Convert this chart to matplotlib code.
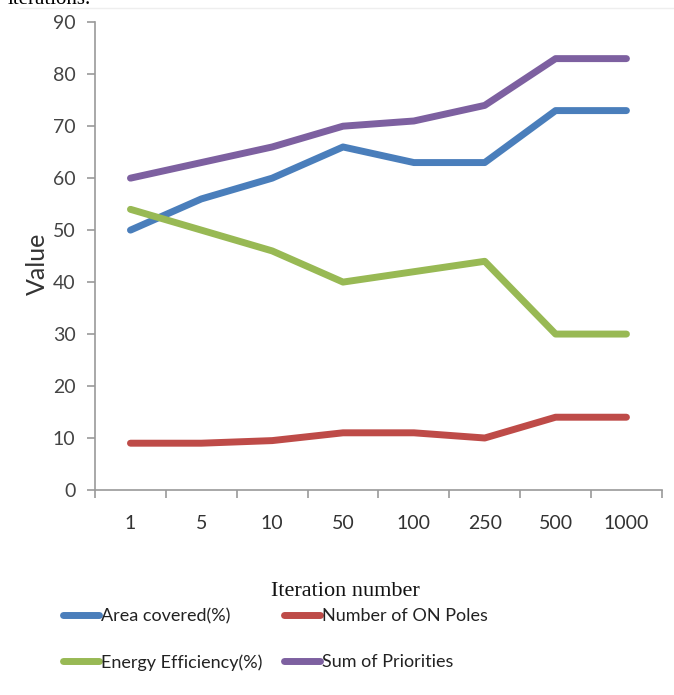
import numpy as np
import matplotlib
matplotlib.use("Agg")
import matplotlib.pyplot as plt
from matplotlib.lines import Line2D

# --------------------------------------------------
# Data
# --------------------------------------------------
iterations = ["1", "5", "10", "50", "100", "250", "500", "1000"]
area_covered = [50, 56, 60, 66, 63, 63, 73, 73]
on_poles = [9, 9, 9.5, 11, 11, 10, 14, 14]
energy_eff = [54, 50, 46, 40, 42, 44, 30, 30]
sum_priorities = [60, 63, 66, 70, 71, 74, 83, 83]

series_names = ["Area covered(%)", "Number of ON Poles",
                "Energy Efficiency(%)", "Sum of Priorities"]
colors = ["#4a7ebb", "#be4b48", "#98b954", "#7d60a0"]

sans = ["Lato", "DejaVu Sans"]

# --------------------------------------------------
# Figure
# --------------------------------------------------
fig = plt.figure(figsize=(6.74, 6.95), dpi=100)
ax = fig.add_axes([0.141, 0.295, 0.841, 0.673])

x = np.arange(len(iterations))
lines = {}
for name, vals, c in zip(series_names,
                         [area_covered, on_poles, energy_eff, sum_priorities],
                         colors):
    ln, = ax.plot(x, vals, color=c, lw=5, solid_capstyle="round",
                  solid_joinstyle="round")
    lines[name] = ln

ax.set_xlim(-0.5, len(iterations) - 0.5)
ax.set_ylim(0, 90)
ax.set_yticks(range(0, 91, 10))
ax.set_xticks(x)
ax.set_xticklabels(iterations)
ax.set_xticks(np.arange(-0.5, len(iterations)), minor=True)
ax.tick_params(axis="x", which="major", length=0, pad=18,
               labelsize=14, labelcolor="#333333")
ax.tick_params(axis="x", which="minor", length=6, color="#9a9a9a", width=1.2)
ax.tick_params(axis="y", length=6, color="#9a9a9a", width=1.2, pad=8,
               labelsize=14, labelcolor="#444444")
for lbl in ax.get_xticklabels() + ax.get_yticklabels():
    lbl.set_family(sans)

for s in ["top", "right"]:
    ax.spines[s].set_visible(False)
for s in ["left", "bottom"]:
    ax.spines[s].set_color("#9a9a9a")
    ax.spines[s].set_linewidth(1.2)

fig.text(0.055, 0.62, "Value", rotation=90, ha="center", va="center",
         fontsize=18, family=sans, color="#333333")
fig.text(0.512, 0.149, "Iteration number", ha="center", va="center",
         fontsize=16, family="Liberation Serif", color="#111111")

# cut-off caption from page above
fig.text(0.012, 1.0, "iterations.", ha="left", va="center",
         fontsize=15, family="Liberation Serif", color="#000000")
fig.add_artist(Line2D([0.03, 1.0], [0.988, 0.988], color="#eeeeee", lw=1))

order = ["Area covered(%)", "Energy Efficiency(%)",
         "Number of ON Poles", "Sum of Priorities"]
fig.legend([lines[n] for n in order], order, ncol=2, frameon=False,
           loc="center left", bbox_to_anchor=(0.08, 0.08), borderpad=0,
           prop={"family": sans, "size": 13},
           handlelength=2.0, handletextpad=0.1, columnspacing=1.2,
           labelspacing=1.65, labelcolor="#222222")

fig.savefig("out.png", dpi=100)
